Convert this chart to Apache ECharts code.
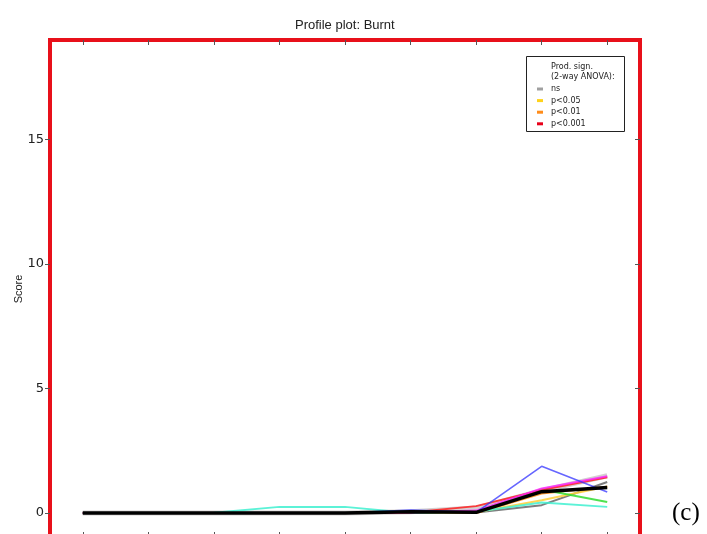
<!DOCTYPE html>
<html>
<head>
<meta charset="utf-8">
<script src="https://cdn.jsdelivr.net/npm/echarts@6/dist/echarts.min.js"></script>
<style>
  html, body { margin: 0; padding: 0; background: #fff; overflow: hidden; }
  #chart { width: 707px; height: 534px; }
</style>
</head>
<body>
<div id="chart"></div>
<script>
// Assessment points along the profile
const categories = ['1', '2', '3', '4', '5', '6', '7', '8', '9'];

// Y tick labels
const yTicks = [0, 5, 10, 15];

// Product profiles (Burnt score)
const prodGrayWide = [0, 0, 0, 0, 0, 0.05, 0.20, 0.90, 1.50];
const prodGray     = [0, 0, 0, 0, 0, 0.00, 0.02, 0.32, 1.25];
const prodRed      = [0, 0, 0, 0, 0, 0.02, 0.28, 0.93, 1.44];
const prodMagenta  = [0, 0, 0, 0, 0, 0.02, 0.10, 0.99, 1.48];
const prodGreen    = [0, 0, 0, 0, 0, 0.08, 0.05, 0.95, 0.45];
const prodOrange   = [0, 0, 0, 0, 0, 0.00, 0.00, 0.79, 1.06];
const prodYellow   = [0, 0, 0, 0, 0, 0.00, 0.03, 0.52, 1.07];
const prodCyan     = [0, 0, 0.01, 0.25, 0.25, 0.00, 0.05, 0.43, 0.25];
const prodBlue     = [0, 0, 0, 0, 0, 0.12, 0.03, 1.88, 0.85];
const prodMean     = [0, 0, 0, 0, 0, 0.05, 0.03, 0.86, 1.03];

// Significance legend entries
const signNames  = ['ns', 'p<0.05', 'p<0.01', 'p<0.001'];
const signColors = ['#a0a0a0', '#ffd21a', '#ff8c1a', '#e8001a'];

function profile(data, color, width, opacity, z) {
  return {
    type: 'line',
    data: data,
    symbol: 'none',
    silent: true,
    z: z,
    lineStyle: { color: color, width: width, opacity: opacity },
    itemStyle: { color: color },
    animation: false
  };
}

const series = [
  profile(prodGrayWide, '#b8b0b0', 5, 0.6, 2),
  profile(prodGray, '#707070', 2, 0.9, 3),
  profile(prodOrange, '#ff8c1a', 2, 0.9, 3),
  profile(prodYellow, '#ffd040', 2, 0.9, 3),
  profile(prodCyan, '#40f0d0', 2, 0.85, 3),
  profile(prodGreen, '#30dd30', 2, 0.85, 3),
  profile(prodRed, '#ff2020', 2, 0.85, 4),
  profile(prodMagenta, '#ff20ff', 2, 0.8, 4),
  profile(prodBlue, '#3333ff', 1.6, 0.75, 5),
  profile(prodMean, '#000000', 3.5, 1, 6)
];

signNames.forEach(function (name, i) {
  series.push({
    name: name,
    type: 'line',
    data: [],
    symbol: 'none',
    itemStyle: { color: signColors[i] },
    lineStyle: { color: signColors[i] }
  });
});

const chart = echarts.init(document.getElementById('chart'), null, { renderer: 'canvas' });

chart.setOption({
  animation: false,
  backgroundColor: '#ffffff',
  title: {
    text: 'Profile plot: Burnt',
    left: 290,
    top: 14,
    textStyle: {
      fontFamily: 'Liberation Sans',
      fontSize: 13,
      fontWeight: 'normal',
      color: '#222'
    }
  },
  grid: {
    left: 50,
    top: 40,
    width: 590,
    height: 498,
    outerBoundsMode: 'none',
    show: true,
    borderColor: '#e8101a',
    borderWidth: 4,
    backgroundColor: 'transparent',
    containLabel: false
  },
  legend: {
    data: signNames,
    orient: 'vertical',
    left: 532,
    top: 80,
    icon: 'rect',
    itemWidth: 6,
    itemHeight: 3,
    itemGap: 3.6,
    selectedMode: false,
    textStyle: {
      fontFamily: 'DejaVu Sans',
      fontSize: 8,
      color: '#222',
      lineHeight: 8,
      padding: [0, 0, 0, 3]
    }
  },
  graphic: [
    {
      type: 'rect',
      shape: { x: 526.5, y: 56.5, width: 98, height: 75 },
      style: { fill: '#ffffff', stroke: '#222', lineWidth: 1 },
      z: 0
    },
    {
      type: 'text',
      left: 551,
      top: 62,
      style: {
        text: 'Prod. sign.\n(2-way ANOVA):',
        fontFamily: 'DejaVu Sans',
        fontSize: 8,
        lineHeight: 10,
        fill: '#222'
      },
      z: 1
    },
    {
      type: 'text',
      left: 672,
      top: 501,
      style: {
        text: '(c)',
        fontFamily: 'Liberation Serif',
        fontSize: 25,
        fill: '#000'
      }
    }
  ],
  xAxis: [
    {
      type: 'category',
      data: categories,
      boundaryGap: true,
      position: 'bottom',
      axisLine: { show: false, onZero: false },
      axisTick: { show: true, inside: true, alignWithLabel: true, length: 6, lineStyle: { color: '#555' } },
      axisLabel: { show: false },
      splitLine: { show: false }
    },
    {
      type: 'category',
      data: categories,
      boundaryGap: true,
      position: 'top',
      axisLine: { show: false, onZero: false },
      axisTick: { show: true, inside: true, alignWithLabel: true, length: 5, lineStyle: { color: '#555' } },
      axisLabel: { show: false },
      splitLine: { show: false }
    }
  ],
  yAxis: [
    {
      type: 'value',
      min: -1,
      max: 19,
      position: 'left',
      name: 'Score',
      nameLocation: 'middle',
      nameGap: 26,
      nameRotate: 90,
      nameMoveOverlap: false,
      nameTextStyle: { fontFamily: 'Liberation Sans', fontSize: 11, color: '#222' },
      axisLine: { show: false, onZero: false },
      axisTick: { show: true, inside: false, length: 5, customValues: yTicks, lineStyle: { color: '#555' } },
      axisLabel: {
        customValues: yTicks,
        margin: 6,
        fontFamily: 'DejaVu Sans',
        fontSize: 13,
        color: '#222'
      },
      splitLine: { show: false }
    },
    {
      type: 'value',
      min: -1,
      max: 19,
      position: 'right',
      axisLine: { show: false, onZero: false },
      axisTick: { show: true, inside: true, length: 5, customValues: yTicks, lineStyle: { color: '#555' } },
      axisLabel: { show: false },
      splitLine: { show: false }
    }
  ],
  series: series
});
</script>
</body>
</html>
